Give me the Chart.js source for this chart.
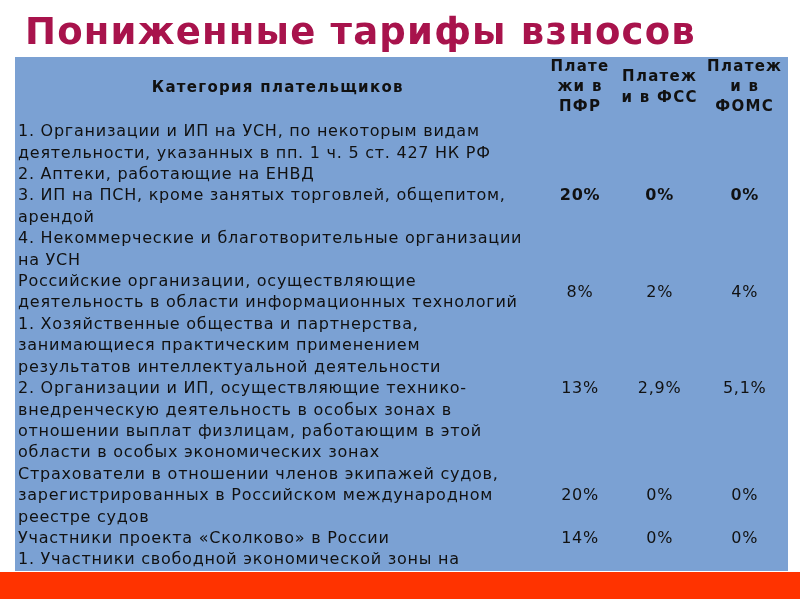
<!DOCTYPE html>
<html>
<head>
<meta charset="utf-8">
<script src="https://cdn.jsdelivr.net/npm/chart.js@4"></script>
<style>
  body { margin: 0; background: #fff; }
  #wrap { width: 800px; height: 600px; }
</style>
</head>
<body>
<div id="wrap"><canvas id="tbl"></canvas></div>
<script>
const titleText = "Пониженные тарифы взносов";

// column headers (lines) and their centres in % of table width
const headCols = [
    ["Категория плательщиков"],
    ["Плате", "жи в", "ПФР"],
    ["Платеж", "и в ФСС"],
    ["Платеж", "и в", "ФОМС"]
];
const colCenters = [34, 73.1, 83.4, 94.4];

// rows: height in text lines, category lines, values
const rowLines = [7, 2, 7, 3, 1, 1];
const categories = [
    ["1. Организации и ИП на УСН, по некоторым видам",
     "деятельности, указанных в пп. 1 ч. 5 ст. 427 НК РФ",
     "2. Аптеки, работающие на ЕНВД",
     "3. ИП на ПСН, кроме занятых торговлей, общепитом,",
     "арендой",
     "4. Некоммерческие и благотворительные организации",
     "на УСН"],
    ["Российские организации, осуществляющие",
     "деятельность в области информационных технологий"],
    ["1. Хозяйственные общества и партнерства,",
     "занимающиеся практическим применением",
     "результатов интеллектуальной деятельности",
     "2. Организации и ИП, осуществляющие технико-",
     "внедренческую деятельность в особых зонах в",
     "отношении выплат физлицам, работающим в этой",
     "области в особых экономических зонах"],
    ["Страхователи в отношении членов экипажей судов,",
     "зарегистрированных в Российском международном",
     "реестре судов"],
    ["Участники проекта «Сколково» в России"],
    ["1. Участники свободной экономической зоны на"]
];
const pfr  = ["20%", "8%", "13%", "20%", "14%", ""];
const fss  = ["0%", "2%", "2,9%", "0%", "0%", ""];
const foms = ["0%", "4%", "5,1%", "0%", "0%", ""];
const headerLines = 3;

const FONT = "'DejaVu Sans', sans-serif";

const tablePlugin = {
    id: "tablePlugin",
    beforeDraw(chart) {
        const { ctx, chartArea: a, width } = chart;
        ctx.save();
        ctx.fillStyle = "#7ba1d3";
        ctx.fillRect(a.left, a.top, a.right - a.left, a.bottom - a.top);
        ctx.fillStyle = "#ff3300";
        ctx.fillRect(0, a.bottom + 1, width, 27);
        ctx.restore();
    },
    afterDraw(chart) {
        const { ctx } = chart;
        const x = chart.scales.x, y = chart.scales.y;
        ctx.save();

        // title
        ctx.fillStyle = "#a8134c";
        ctx.textBaseline = "middle";
        ctx.textAlign = "left";
        ctx.font = "bold 37px " + FONT;
        ctx.letterSpacing = "1.2px";
        ctx.fillText(titleText, 25, 34);

        ctx.fillStyle = "#111";
        // header
        ctx.textAlign = "center";
        ctx.font = "bold 15px " + FONT;
        ctx.letterSpacing = "1.3px";
        headCols.forEach((lines, c) => {
            const start = (headerLines - lines.length) / 2 + 0.45;
            lines.forEach((t, i) => {
                ctx.fillText(t, x.getPixelForValue(colCenters[c]), y.getPixelForValue(start + i * 0.95));
            });
        });

        // body rows
        let top = headerLines;
        rowLines.forEach((n, r) => {
            ctx.textAlign = "left";
            ctx.font = "16px " + FONT;
            ctx.letterSpacing = "0.75px";
            categories[r].forEach((t, i) => {
                ctx.fillText(t, x.getPixelForValue(0) + 3, y.getPixelForValue(top + i + 0.5));
            });
            ctx.textAlign = "center";
            ctx.font = (r === 0 ? "bold " : "") + "16px " + FONT;
            const mid = y.getPixelForValue(top + n / 2);
            [pfr, fss, foms].forEach((col, c) => {
                ctx.fillText(col[r], x.getPixelForValue(colCenters[c + 1]), mid);
            });
            top += n;
        });
        ctx.restore();
    }
};

const totalLines = headerLines + rowLines.reduce((s, v) => s + v, 0);

new Chart(document.getElementById("tbl"), {
    type: "scatter",
    data: { datasets: [{ data: [] }] },
    options: {
        responsive: true,
        maintainAspectRatio: false,
        animation: false,
        layout: { padding: { left: 15, right: 12, top: 57, bottom: 29 } },
        plugins: {
            legend: { display: false },
            tooltip: { enabled: false },
            title: { display: false }
        },
        scales: {
            x: { type: "linear", min: 0, max: 100, display: false },
            y: { type: "linear", min: 0, max: totalLines, reverse: true, display: false }
        }
    },
    plugins: [tablePlugin]
});
</script>
</body>
</html>
